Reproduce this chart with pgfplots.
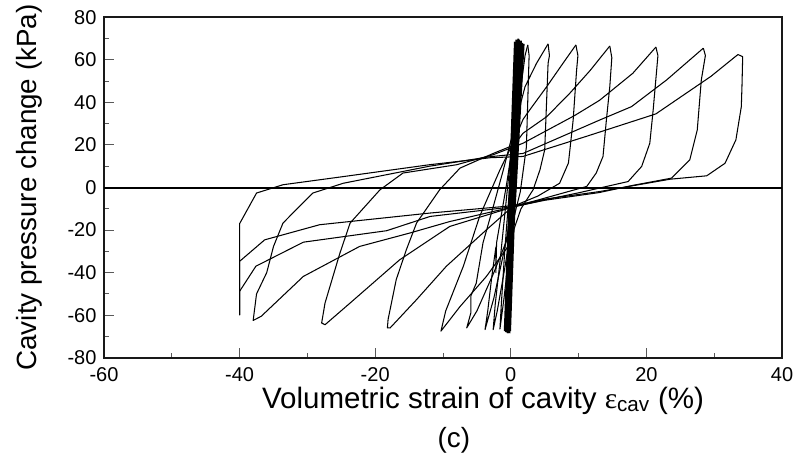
\documentclass[border=0pt]{standalone}
\usepackage{pgfplots}
\pgfplotsset{compat=1.18}
\usepackage{fontspec}
\setmainfont{Liberation Sans}
\newfontfamily\serif{Liberation Serif}
\begin{document}
\begin{tikzpicture}
\path[use as bounding box] (0,0) rectangle (794pt,459pt);
\begin{axis}[
  at={(104pt,101.3pt)}, anchor=south west,
  width=678pt, height=340.4pt, scale only axis,
  xmin=-60, xmax=40, ymin=-80, ymax=80,
  xtick={-60,-40,...,40}, ytick={-80,-60,...,80},
  minor x tick num=1, minor y tick num=1,
  xtick pos=left, ytick pos=left,
  tick align=inside,
  major tick length=10pt, minor tick length=5pt,
  tick style={black!65, line width=0.9pt},
  axis line style={line width=1.8pt, black!90},
  /pgf/number format/assume math mode=true,
  tick label style={font=\fontsize{20}{20}\selectfont},
  xticklabel style={yshift=-6pt},
  yticklabel style={xshift=-4pt},
  xlabel={Volumetric strain of cavity {\serif ε}\textsubscript{cav} (\%)},
  xlabel style={at={(axis description cs:0.559,-0.126)}, anchor=center, font=\fontsize{29.5}{29.5}\selectfont},
  ylabel={Cavity pressure change (kPa)},
  ylabel style={at={(axis description cs:-0.1106,0.5)}, anchor=center, font=\fontsize{27.8}{27.8}\selectfont},
  cycle list={black,solid,mark=none,line width=1.05pt,line join=round\\},
  clip mode=individual,
]
% dense band of small cycles
\addplot[black, mark=none, line width=1.8pt] coordinates {
(-0.9,-67.5) (0.6,68.5) (-0.7,-68) (0.8,69.5) (-0.5,-68.5) (1.0,69) (-0.3,-68) (1.2,69.5)
(-0.1,-67.5) (1.4,68.5) (-0.6,-68) (1.7,68) (-0.4,-67) (1.9,67.5) (-0.8,-66) (1.1,70)
(-0.2,-68.5) (0.9,68) (-0.7,-67) (1.5,69)};
% small cycles near band
\addplot coordinates {(1.0,30) (0.5,-10) (-0.4,-35) (-1.0,-52) (-1.6,-66.5) (-1.4,-55) (-0.9,-30) (-0.3,-5) (0.3,20) (0.9,45) (1.5,66)};
\addplot coordinates {(1.2,25) (0.3,-15) (-1.0,-40) (-2.0,-58) (-2.6,-66.8) (-2.3,-55) (-1.6,-35) (-0.8,-10) (0,15) (0.8,45) (1.6,67)};
\addplot coordinates {(1.0,15) (0.2,-10) (-1.0,-30) (-2.5,-52) (-3.8,-66.8) (-3.4,-58) (-2.8,-41.8) (-2.2,-28) (-2.2,-40) (-2.1,-26) (-0.6,2) (0.5,25) (1.4,45) (2.1,62) (2.5,67)};
% P2.5 -> N-6.5 -> P5.5
\addplot coordinates {(2.5,67) (2.7,62) (2.3,19) (1.4,-2) (0,-20) (-2.5,-40) (-5,-58) (-6.5,-66) (-5.9,-59) (-5.9,-51) (-5.1,-45) (-4.1,-26) (-2.5,-8) (-1.1,8.3) (0.5,28) (2.1,47.4) (3.8,58.4) (5.5,67.5)};
% P5.5 -> N-10.2 -> P9.6
\addplot coordinates {(5.5,67.5) (5.7,62) (5.5,58.4) (5.0,17.7) (4.3,8.3) (3.3,-1) (1.5,-10) (-0.4,-27.7) (-3.6,-41.8) (-7.5,-56) (-10.3,-67.5) (-9.6,-58) (-7,-37) (-4.6,-13.6) (-1.6,8.3) (0.5,22) (1.8,32) (2.8,36.5) (5.3,47.4) (7.7,58.4) (9.6,67)};
% P9.6 -> N-18.1 -> P14.6
\addplot coordinates {(9.6,67) (9.9,62) (9.7,55) (9.2,31.8) (8.5,11.5) (7.2,2) (4,-4) (0.3,-8.9) (-3.6,-19.9) (-9.5,-37) (-13.9,-52.7) (-17.8,-66) (-18.2,-66) (-18.1,-62) (-16.9,-43.3) (-15.4,-29.2) (-13.9,-16.7) (-10.5,-1.1) (-7.5,9.1) (-2.6,16) (0.5,20) (1.8,25.5) (5.3,33.3) (8.7,44.3) (11.7,55) (14.6,66.5)};
% P14.6 -> N-27.9 -> P21.4
\addplot coordinates {(14.6,66.5) (14.9,61) (14.6,47.4) (14.1,31.8) (13.6,14.6) (12.6,6.8) (11.2,0.5) (5,-5) (0.5,-9) (-9,-18.3) (-16.4,-34) (-23.7,-54.3) (-27.4,-64.5) (-27.9,-63.7) (-27.4,-54.3) (-25.2,-30.8) (-23.7,-16.7) (-19.3,-1.1) (-15.9,6.8) (-8,10.7) (-2.6,15.4) (1.8,20.8) (9.4,33.8) (13.1,41) (18,53.7) (21.4,66)};
% P21.4 -> N-38 -> P28.4
\addplot coordinates {(21.4,66) (21.7,62) (21,36.5) (20.5,20.8) (19.3,9.9) (17.3,2.8) (10,-2.5) (5,-5.8) (0.5,-9) (-9,-16) (-14.9,-21.4) (-22.3,-27.7) (-30.6,-41.8) (-36.8,-60.5) (-38,-62.5) (-37.5,-50) (-36,-40) (-35,-27.7) (-33.6,-16.7) (-29.2,-2.6) (-24.7,2) (-12,10) (-3,14.5) (1.8,16) (13.1,31.7) (17.8,38) (23,50.6) (28.4,65.5)};
% P28.4 -> N-40b
\addplot coordinates {(28.4,65.5) (28.7,62) (28.1,50.6) (27.5,27) (26.4,13) (23.7,4.4) (18,1) (13,-2.4) (5,-6) (0.5,-9) (-11.9,-13.6) (-18.3,-20.3) (-30.6,-25.7) (-37.6,-37) (-40,-48.8) (-40,-60)};
% reload from -40 -> P33.9
\addplot coordinates {(-40,-60) (-40,-17) (-37.5,-2.6) (-33.6,1.3) (-25,5) (-12,10.7) (-3,14) (1.8,14.6) (11.4,24.3) (21.4,34.6) (29.5,52.2) (33.5,62.5)};
% P33.9 -> N-40a
\addplot coordinates {(33.5,62.5) (34.2,61.5) (34.1,48) (34,38) (33.2,22.4) (31.6,11.4) (28.9,5.5) (23.5,3.9) (13.1,-1.9) (5,-5.5) (0.5,-8.5) (-11.9,-12) (-28.2,-17.5) (-36.3,-24.6) (-40,-34.7) (-40,-60)};
% zero line
\draw[black, line width=2pt] (axis cs:-60,0) -- (axis cs:40,0);
\node[font=\fontsize{27.8}{27.8}\selectfont] at (axis description cs:0.516,-0.242) {(c)};
\end{axis}
\end{tikzpicture}
\end{document}
